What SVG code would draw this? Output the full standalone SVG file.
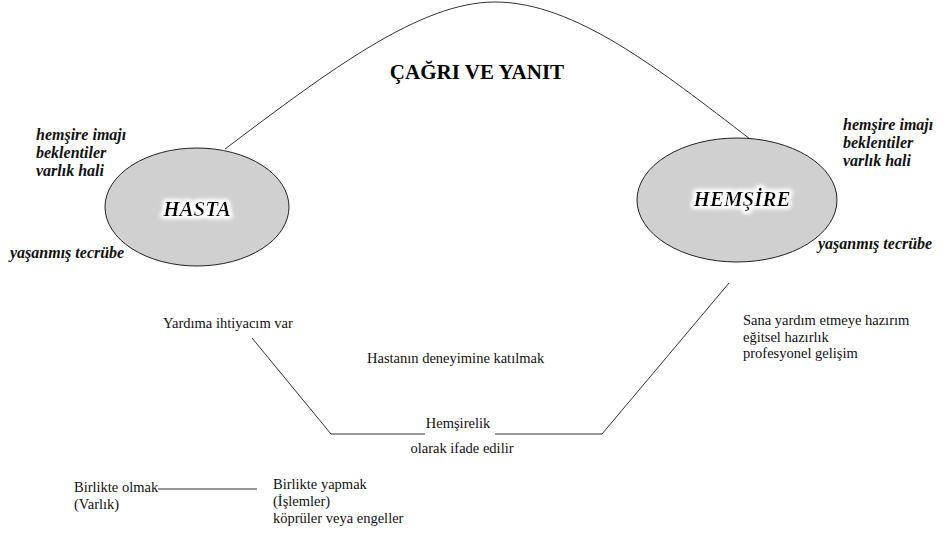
<svg xmlns="http://www.w3.org/2000/svg" width="950" height="534" viewBox="0 0 950 534">
<defs>
<filter id="glow" x="-20%" y="-50%" width="140%" height="200%">
<feMorphology in="SourceAlpha" operator="dilate" radius="1.5" result="d"/>
<feGaussianBlur in="d" stdDeviation="2" result="b"/>
<feFlood flood-color="#ffffff"/>
<feComposite in2="b" operator="in" result="w"/>
<feMerge><feMergeNode in="w"/><feMergeNode in="w"/><feMergeNode in="SourceGraphic"/></feMerge>
</filter>
</defs>
<rect width="950" height="534" fill="#ffffff"/>
<g id="connectors" fill="none" stroke="#333" stroke-width="1">
<path d="M225,149 C330,70 420,2 495,2 C575,2 660,70 750,139"/>
<path d="M252,338 L331,434 L425,434"/>
<path d="M495,434 L602,434 L729,283"/>
<path d="M158,489 L257,489"/>
</g>
<g id="title"><text font-family="Times New Roman, Times, serif" font-size="21" font-weight="bold" fill="#000" x="477" y="79" text-anchor="middle">ÇAĞRI VE YANIT</text></g>
<g id="hasta">
<ellipse cx="197" cy="207" rx="92" ry="59" fill="#d0d0d0" stroke="#222" stroke-width="1"/>
<text font-family="Times New Roman, Times, serif" font-size="21" font-style="italic" font-weight="bold" fill="#000" filter="url(#glow)" x="197" y="216" text-anchor="middle">HASTA</text>
</g>
<g id="hemsire">
<ellipse cx="737" cy="200" rx="100" ry="62" fill="#d0d0d0" stroke="#222" stroke-width="1"/>
<text font-family="Times New Roman, Times, serif" font-size="21" font-style="italic" font-weight="bold" fill="#000" filter="url(#glow)" x="742" y="206" text-anchor="middle">HEMŞİRE</text>
</g>
<g id="hasta-notes">
<text font-family="Times New Roman, Times, serif" font-size="16" font-style="italic" font-weight="bold" fill="#111" x="36" y="140">hemşire imajı</text>
<text font-family="Times New Roman, Times, serif" font-size="16" font-style="italic" font-weight="bold" fill="#111" x="36" y="158">beklentiler</text>
<text font-family="Times New Roman, Times, serif" font-size="16" font-style="italic" font-weight="bold" fill="#111" x="36" y="176">varlık hali</text>
<text font-family="Times New Roman, Times, serif" font-size="16" font-style="italic" font-weight="bold" fill="#111" x="10" y="258">yaşanmış tecrübe</text>
</g>
<g id="hemsire-notes">
<text font-family="Times New Roman, Times, serif" font-size="16" font-style="italic" font-weight="bold" fill="#111" x="843" y="130">hemşire imajı</text>
<text font-family="Times New Roman, Times, serif" font-size="16" font-style="italic" font-weight="bold" fill="#111" x="843" y="148">beklentiler</text>
<text font-family="Times New Roman, Times, serif" font-size="16" font-style="italic" font-weight="bold" fill="#111" x="843" y="166">varlık hali</text>
<text font-family="Times New Roman, Times, serif" font-size="16" font-style="italic" font-weight="bold" fill="#111" x="818" y="249">yaşanmış tecrübe</text>
</g>
<g id="labels">
<text font-family="Times New Roman, Times, serif" font-size="14.5" fill="#111" x="163" y="328">Yardıma ihtiyacım var</text>
<text font-family="Times New Roman, Times, serif" font-size="14.5" fill="#111" x="367" y="363">Hastanın deneyimine katılmak</text>
<text font-family="Times New Roman, Times, serif" font-size="14.5" fill="#111" x="458" y="428" text-anchor="middle">Hemşirelik</text>
<text font-family="Times New Roman, Times, serif" font-size="14.5" fill="#111" x="462" y="453" text-anchor="middle">olarak ifade edilir</text>
<text font-family="Times New Roman, Times, serif" font-size="14.5" fill="#111" x="743" y="325">Sana yardım etmeye hazırım</text>
<text font-family="Times New Roman, Times, serif" font-size="14.5" fill="#111" x="743" y="342">eğitsel hazırlık</text>
<text font-family="Times New Roman, Times, serif" font-size="14.5" fill="#111" x="743" y="358">profesyonel gelişim</text>
</g>
<g id="bottom">
<text font-family="Times New Roman, Times, serif" font-size="14.5" fill="#111" x="74" y="492">Birlikte olmak</text>
<text font-family="Times New Roman, Times, serif" font-size="14.5" fill="#111" x="74" y="509">(Varlık)</text>
<text font-family="Times New Roman, Times, serif" font-size="14.5" fill="#111" x="273" y="489">Birlikte yapmak</text>
<text font-family="Times New Roman, Times, serif" font-size="14.5" fill="#111" x="273" y="506">(İşlemler)</text>
<text font-family="Times New Roman, Times, serif" font-size="14.5" fill="#111" x="273" y="523">köprüler veya engeller</text>
</g>
</svg>
